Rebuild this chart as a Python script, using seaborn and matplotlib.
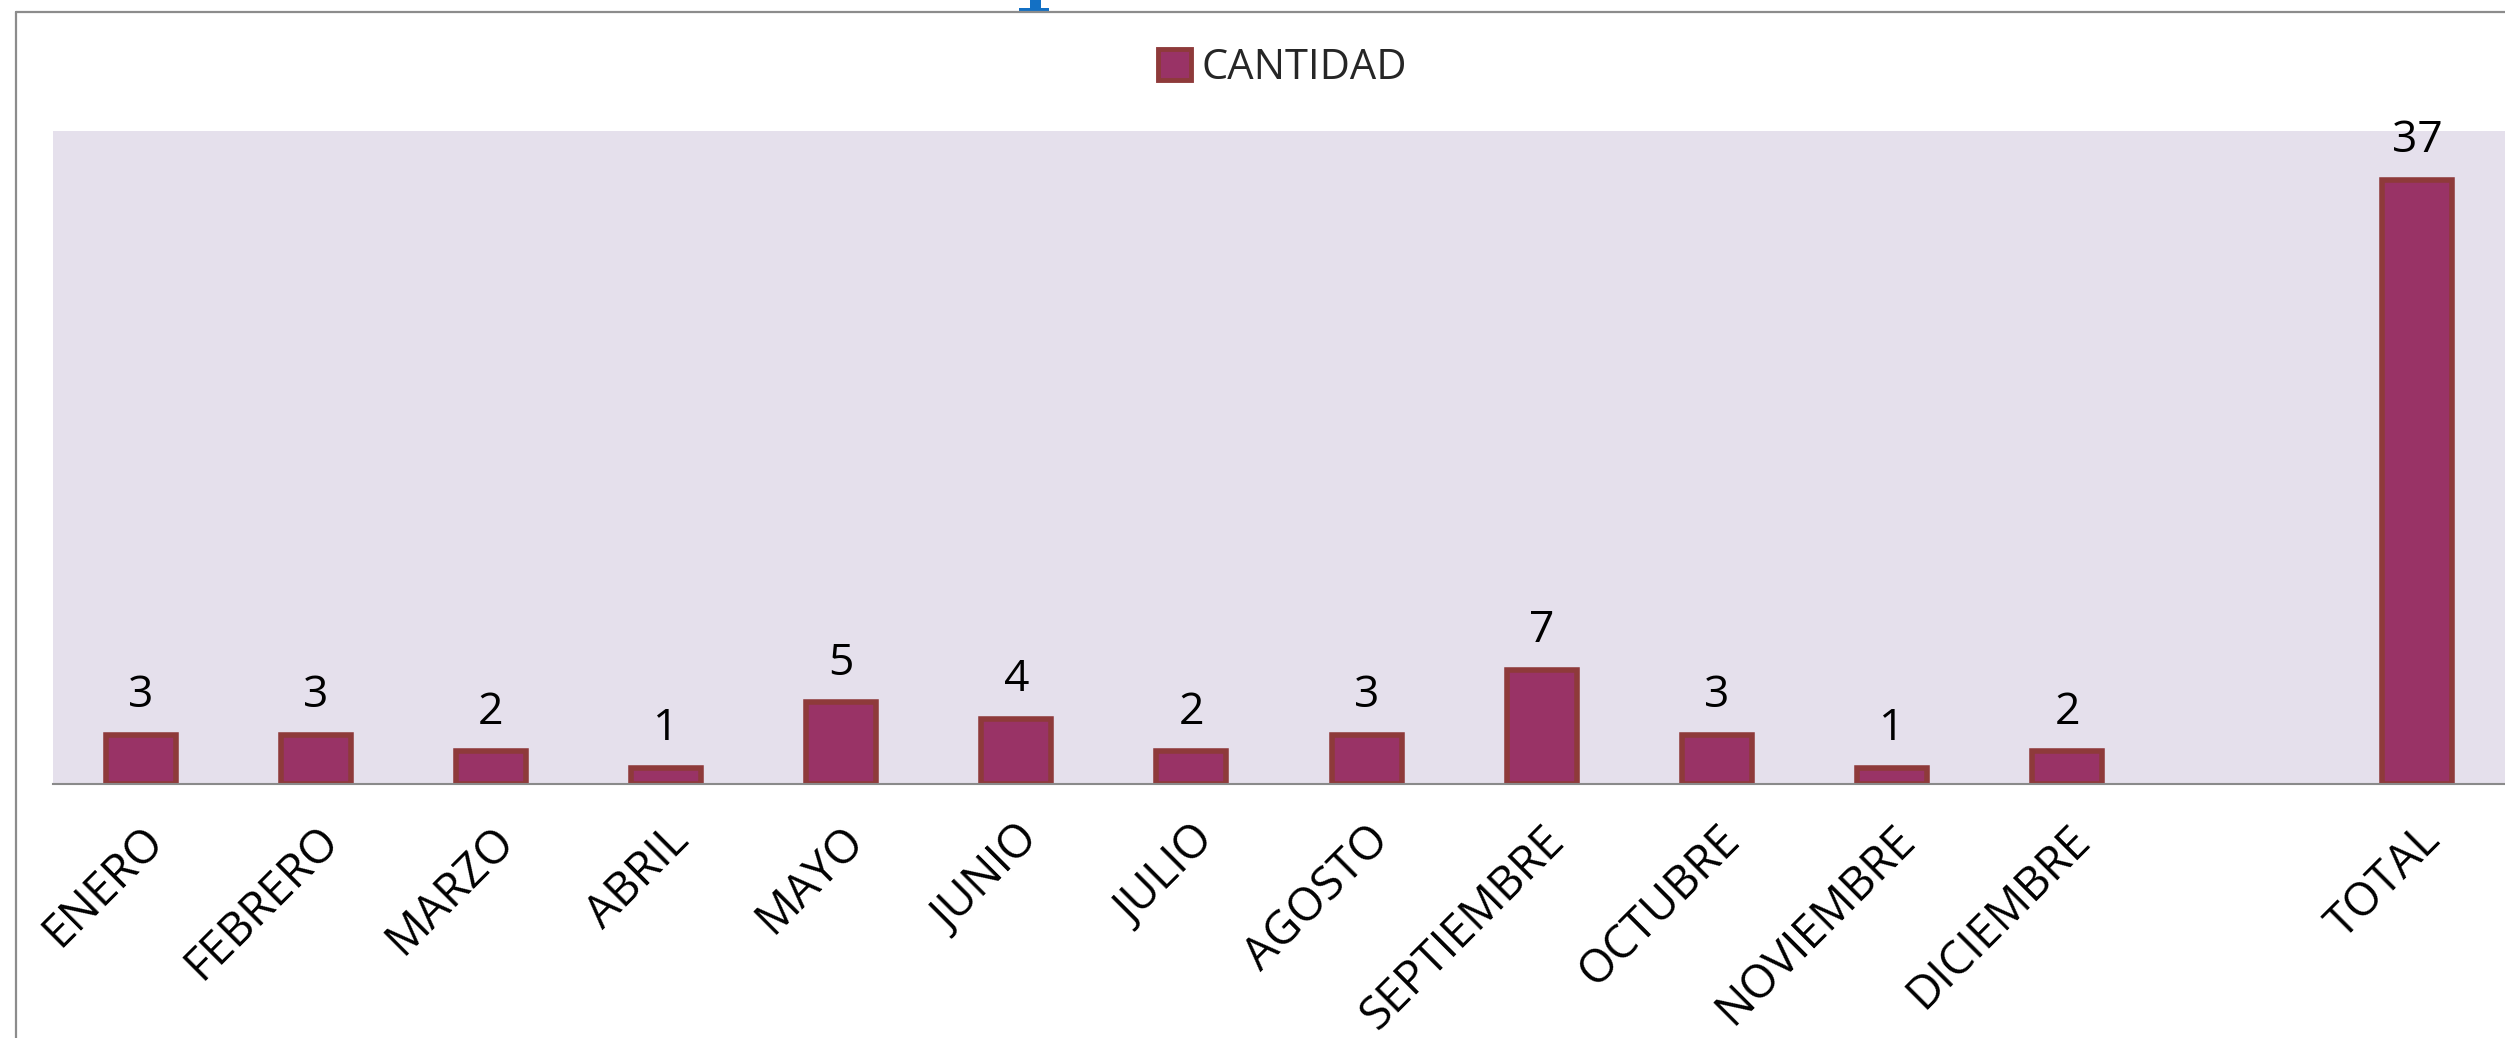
import matplotlib
matplotlib.use('Agg')
import matplotlib.pyplot as plt
from matplotlib.lines import Line2D
from matplotlib.patches import Rectangle, Patch
import pandas as pd
import seaborn as sns

# data
months = ['ENERO', 'FEBRERO', 'MARZO', 'ABRIL', 'MAYO', 'JUNIO', 'JULIO',
          'AGOSTO', 'SEPTIEMBRE', 'OCTUBRE', 'NOVIEMBRE', 'DICIEMBRE']
month_counts = [3, 3, 2, 1, 5, 4, 2, 3, 7, 3, 1, 2]
total_label = 'TOTAL'
total_count = 37
series_name = 'CANTIDAD'

# empty slot between DICIEMBRE and TOTAL, like the spreadsheet
categories = months + [' ', total_label]
values = month_counts + [None, total_count]
df = pd.DataFrame({'mes': categories, 'cantidad': values})

BAR = '#993366'
EDGE = '#8E3A3A'
BG = '#E5E0EC'
FONT = ['Open Sans', 'DejaVu Sans']

sns.set_theme(style='white')
plt.rcParams['font.family'] = FONT

W, H = 2505, 1038
fig = plt.figure(figsize=(W / 100, H / 100), dpi=100)
ax = fig.add_axes([53 / W, 1 - 784 / H, 1 - 53 / W, (784 - 131) / H])
ax.set_facecolor(BG)

sns.barplot(data=df, x='mes', y='cantidad', order=categories, color=BAR,
            width=0.40, saturation=1, edgecolor=EDGE, linewidth=4, ax=ax)

ax.set_ylim(0, 40)
ax.set_xlim(-0.5, len(categories) - 0.5)
ax.set(xlabel='', ylabel='')
ax.set_yticks([])
for side in ['top', 'right', 'left']:
    ax.spines[side].set_visible(False)
ax.spines['bottom'].set_color('#8A8A8A')
ax.spines['bottom'].set_linewidth(1.5)
ax.tick_params(axis='x', length=0, pad=24, labelsize=33, labelcolor='black')
for lab in ax.get_xticklabels():
    lab.set_rotation(45)
    lab.set_ha('right')
    lab.set_rotation_mode('anchor')

for cont in ax.containers:
    labels = ['' if pd.isna(v) else f'{int(v)}' for v in cont.datavalues]
    ax.bar_label(cont, labels=labels, padding=12, fontsize=32, color='black')

handle = Patch(facecolor=BAR, edgecolor=EDGE, linewidth=3.5)
fig.legend([handle], [series_name], loc='center', bbox_to_anchor=(0.512, 1 - 68 / H),
           frameon=False, fontsize=30, handlelength=0.8, handleheight=0.8,
           handletextpad=0.25)

# chart frame edges and the selection handle visible at the top
fig.add_artist(Line2D([16 / W, 1], [1 - 12 / H] * 2, color='#8C8C8C', lw=1.6))
fig.add_artist(Line2D([16 / W] * 2, [0, 1 - 12 / H], color='#8C8C8C', lw=1.6))
fig.add_artist(Rectangle((1030 / W, 1 - 9 / H), 11 / W, 9 / H, color='#1370C4', lw=0))
fig.add_artist(Rectangle((1019 / W, 1 - 13 / H), 30 / W, 5 / H, color='#1370C4', lw=0))

fig.savefig('out.png', dpi=100)
